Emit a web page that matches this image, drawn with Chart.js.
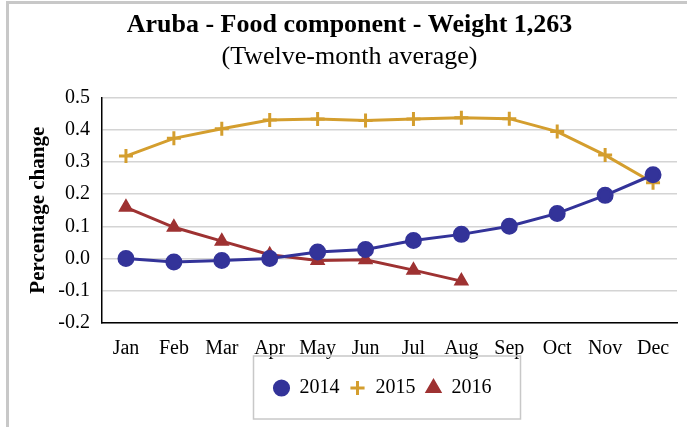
<!DOCTYPE html>
<html>
<head>
<meta charset="utf-8">
<script src="https://cdn.jsdelivr.net/npm/chart.js@4/dist/chart.umd.min.js"></script>
<style>
    html, body { margin: 0; padding: 0; background: #fff; }
    #wrap { position: relative; width: 687px; height: 427px; }
    #frame {
        position: absolute; left: 6px; top: 1px; right: -10px; bottom: -10px;
        border-left: 3px solid #c8c8c8; border-top: 3px solid #c8c8c8;
    }
    canvas { position: absolute; left: 0; top: 0; }
</style>
</head>
<body>
<div id="wrap">
    <div id="frame"></div>
    <canvas id="foodChart" width="687" height="427"></canvas>
</div>
<script>
/* data */
var months = ['Jan', 'Feb', 'Mar', 'Apr', 'May', 'Jun', 'Jul', 'Aug', 'Sep', 'Oct', 'Nov', 'Dec'];
var values2014 = [0.000, -0.011, -0.006, 0.000, 0.020, 0.028, 0.056, 0.075, 0.100, 0.140, 0.196, 0.260];
var values2015 = [0.318, 0.373, 0.403, 0.430, 0.433, 0.428, 0.433, 0.437, 0.434, 0.394, 0.321, 0.235];
var values2016 = [0.159, 0.097, 0.054, 0.012, -0.006, -0.004, -0.036, -0.070];
var yTicks = [-0.2, -0.1, 0.0, 0.1, 0.2, 0.3, 0.4, 0.5];

var serif = "'Liberation Serif', 'DejaVu Serif', serif";

/* legend sits a bit right of centre in the original, with a grey box round it */
var legendBox = {
    id: 'legendBox',
    afterLayout: function (chart) {
        var lg = chart.legend;
        if (!lg) return;
        lg.left += 33; lg.right += 33;
        lg.top -= 7; lg.bottom -= 7;
    },
    afterDraw: function (chart) {
        var lg = chart.legend;
        if (!lg || !lg.legendHitBoxes.length) return;
        var boxes = lg.legendHitBoxes;
        var left = boxes[0].left, right = 0;
        boxes.forEach(function (b) {
            left = Math.min(left, b.left);
            right = Math.max(right, b.left + b.width);
        });
        var mid = boxes[0].top + boxes[0].height / 2;
        var ctx = chart.ctx;
        ctx.save();
        ctx.strokeStyle = '#c8c8c8';
        ctx.lineWidth = 1.5;
        ctx.strokeRect(left - 20, mid - 32, right - left + 49, 63);
        ctx.restore();
    }
};

new Chart(document.getElementById('foodChart').getContext('2d'), {
    type: 'line',
    data: {
        labels: months,
        datasets: [{
            label: '2014',
            data: values2014,
            borderColor: '#333399',
            backgroundColor: '#333399',
            pointStyle: 'circle',
            pointRadius: 7,
            pointHoverRadius: 7,
            borderWidth: 3
        }, {
            label: '2015',
            data: values2015,
            borderColor: '#D49E2E',
            backgroundColor: '#D49E2E',
            pointStyle: 'cross',
            pointRadius: 7,
            pointBorderWidth: 3,
            borderWidth: 3
        }, {
            label: '2016',
            data: values2016,
            borderColor: '#9E3232',
            backgroundColor: '#9E3232',
            pointStyle: 'triangle',
            pointRadius: 6,
            borderWidth: 3
        }]
    },
    options: {
        responsive: false,
        animation: false,
        layout: { padding: { left: 22, right: 10, top: 0, bottom: 12 } },
        plugins: {
            title: {
                display: true,
                text: 'Aruba - Food component - Weight 1,263',
                color: '#000',
                font: { family: serif, size: 26, weight: 'bold' },
                padding: { top: 10, bottom: 0 }
            },
            subtitle: {
                display: true,
                text: '(Twelve-month average)',
                color: '#000',
                font: { family: serif, size: 26 },
                padding: { top: 0, bottom: 25 }
            },
            legend: {
                position: 'bottom',
                labels: {
                    usePointStyle: true,
                    boxWidth: 16,
                    boxHeight: 10,
                    padding: 10,
                    color: '#000',
                    font: { family: serif, size: 20 }
                }
            },
            tooltip: { enabled: false }
        },
        scales: {
            x: {
                offset: true,
                grid: { display: false, drawTicks: false },
                border: { display: true, color: '#000', width: 1.5 },
                ticks: { color: '#000', padding: 14, font: { family: serif, size: 20 } }
            },
            y: {
                min: -0.2,
                max: 0.5,
                afterFit: function (scale) { scale.width = 80; },
                afterBuildTicks: function (scale) {
                    scale.ticks = yTicks.map(function (v) { return { value: v }; });
                },
                grid: { color: '#d4d4d4', lineWidth: 1.5, drawTicks: false },
                border: { display: true, color: '#000', width: 1.5 },
                ticks: {
                    color: '#000',
                    padding: 12,
                    font: { family: serif, size: 20 },
                    callback: function (v) { return v.toFixed(1); }
                },
                title: {
                    display: true,
                    text: 'Percentage change',
                    color: '#000',
                    font: { family: serif, size: 21, weight: 'bold' }
                }
            }
        }
    },
    plugins: [legendBox]
});
</script>
</body>
</html>
